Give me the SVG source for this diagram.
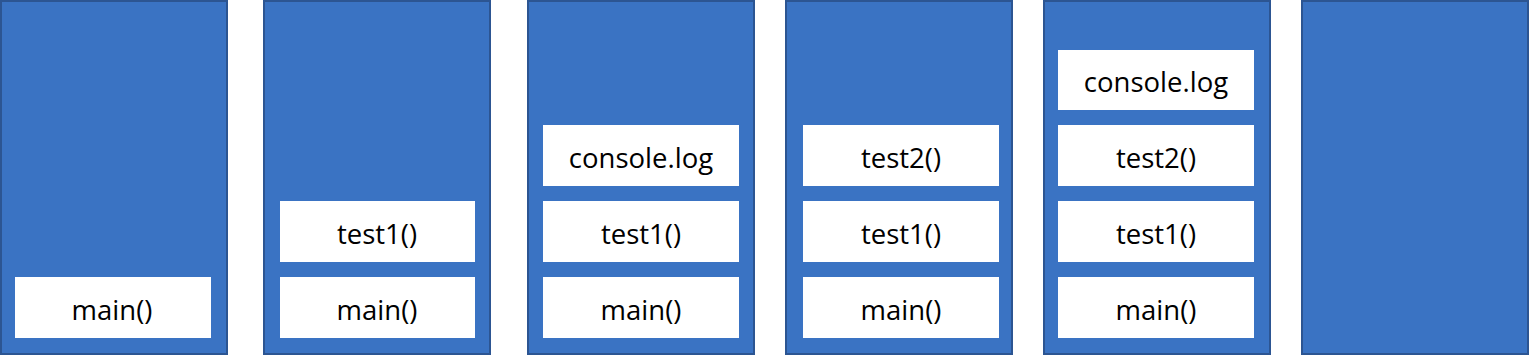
<svg xmlns="http://www.w3.org/2000/svg" width="1529" height="355" viewBox="0 0 1529 355">
<style>
.col{fill:#3A73C3;stroke:#2C5592;stroke-width:2}
.box{fill:#FFFFFF}
.t{font-family:"Open Sans","Noto Sans","DejaVu Sans",sans-serif;font-size:27.5px;fill:#000;text-anchor:middle}
</style>
<rect width="1529" height="355" fill="#FFFFFF"/>
<g id="stack1">
<rect class="col" x="1" y="1" width="226" height="353"/>
<rect class="box" x="15" y="277" width="196" height="61"/>
<text class="t" x="112" y="320">main()</text>
</g>
<g id="stack2">
<rect class="col" x="264" y="1" width="226" height="353"/>
<rect class="box" x="280" y="201" width="195" height="61"/>
<text class="t" x="377" y="244">test1()</text>
<rect class="box" x="280" y="277" width="195" height="61"/>
<text class="t" x="377" y="320">main()</text>
</g>
<g id="stack3">
<rect class="col" x="528" y="1" width="226" height="353"/>
<rect class="box" x="543" y="125" width="196" height="61"/>
<text class="t" x="641" y="168">console.log</text>
<rect class="box" x="543" y="201" width="196" height="61"/>
<text class="t" x="641" y="244">test1()</text>
<rect class="box" x="543" y="277" width="196" height="61"/>
<text class="t" x="641" y="320">main()</text>
</g>
<g id="stack4">
<rect class="col" x="786" y="1" width="226" height="353"/>
<rect class="box" x="803" y="125" width="196" height="61"/>
<text class="t" x="901" y="168">test2()</text>
<rect class="box" x="803" y="201" width="196" height="61"/>
<text class="t" x="901" y="244">test1()</text>
<rect class="box" x="803" y="277" width="196" height="61"/>
<text class="t" x="901" y="320">main()</text>
</g>
<g id="stack5">
<rect class="col" x="1044" y="1" width="226" height="353"/>
<rect class="box" x="1058" y="50" width="196" height="60"/>
<text class="t" x="1156" y="92">console.log</text>
<rect class="box" x="1058" y="125" width="196" height="61"/>
<text class="t" x="1156" y="168">test2()</text>
<rect class="box" x="1058" y="201" width="196" height="61"/>
<text class="t" x="1156" y="244">test1()</text>
<rect class="box" x="1058" y="277" width="196" height="61"/>
<text class="t" x="1156" y="320">main()</text>
</g>
<g id="stack6">
<rect class="col" x="1302" y="1" width="226" height="353"/>
</g>
<g id="connectors"></g>
</svg>
